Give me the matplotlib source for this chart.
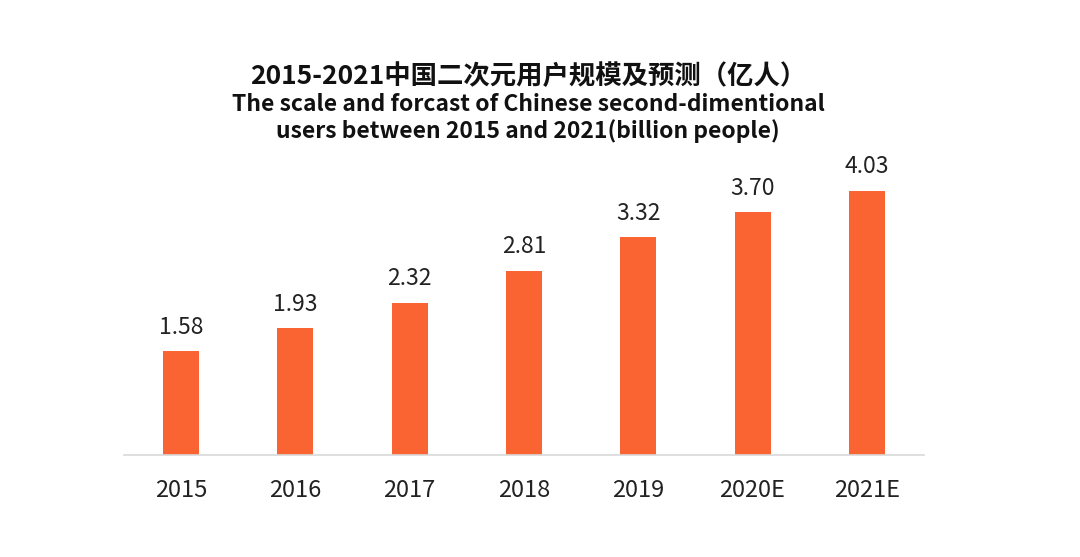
import matplotlib.pyplot as plt

plt.rcParams['font.family'] = ['Noto Sans CJK SC', 'DejaVu Sans']

years = ["2015", "2016", "2017", "2018", "2019", "2020E", "2021E"]
users = [1.58, 1.93, 2.32, 2.81, 3.32, 3.70, 4.03]

fig = plt.figure(figsize=(10.8, 5.57), dpi=100)
ax = fig.add_axes([0.1148, 0.1831, 0.7407, 0.5296])

bars = ax.bar(range(len(years)), users, width=0.315, color="#FA6432")
for b, v in zip(bars, users):
    ax.annotate(f"{v:.2f}", (b.get_x() + b.get_width() / 2, v),
                xytext=(0, 9), textcoords="offset points",
                ha="center", va="bottom", fontsize=16.5, color="#222222")

ax.set_xlim(-0.5, len(years) - 0.5)
ax.set_ylim(0, 4.5)
ax.set_xticks(range(len(years)))
ax.set_xticklabels(years, fontsize=17, color="#222222")
ax.tick_params(axis="x", length=0, pad=17)
ax.set_yticks([])
for s in ["top", "right", "left"]:
    ax.spines[s].set_visible(False)
ax.spines["bottom"].set_color("#d9d9d9")
ax.spines["bottom"].set_linewidth(1.2)

fig.text(0.489, 0.863, "2015-2021中国二次元用户规模及预测（亿人）",
         ha="center", va="center", fontsize=19, fontweight="bold", color="#111111")
fig.text(0.489, 0.813, "The scale and forcast of Chinese second-dimentional",
         ha="center", va="center", fontsize=16.5, fontweight="bold", color="#111111")
fig.text(0.489, 0.764, "users between 2015 and 2021(billion people)",
         ha="center", va="center", fontsize=16.5, fontweight="bold", color="#111111")

fig.savefig("out.png", dpi=100, facecolor="white")
